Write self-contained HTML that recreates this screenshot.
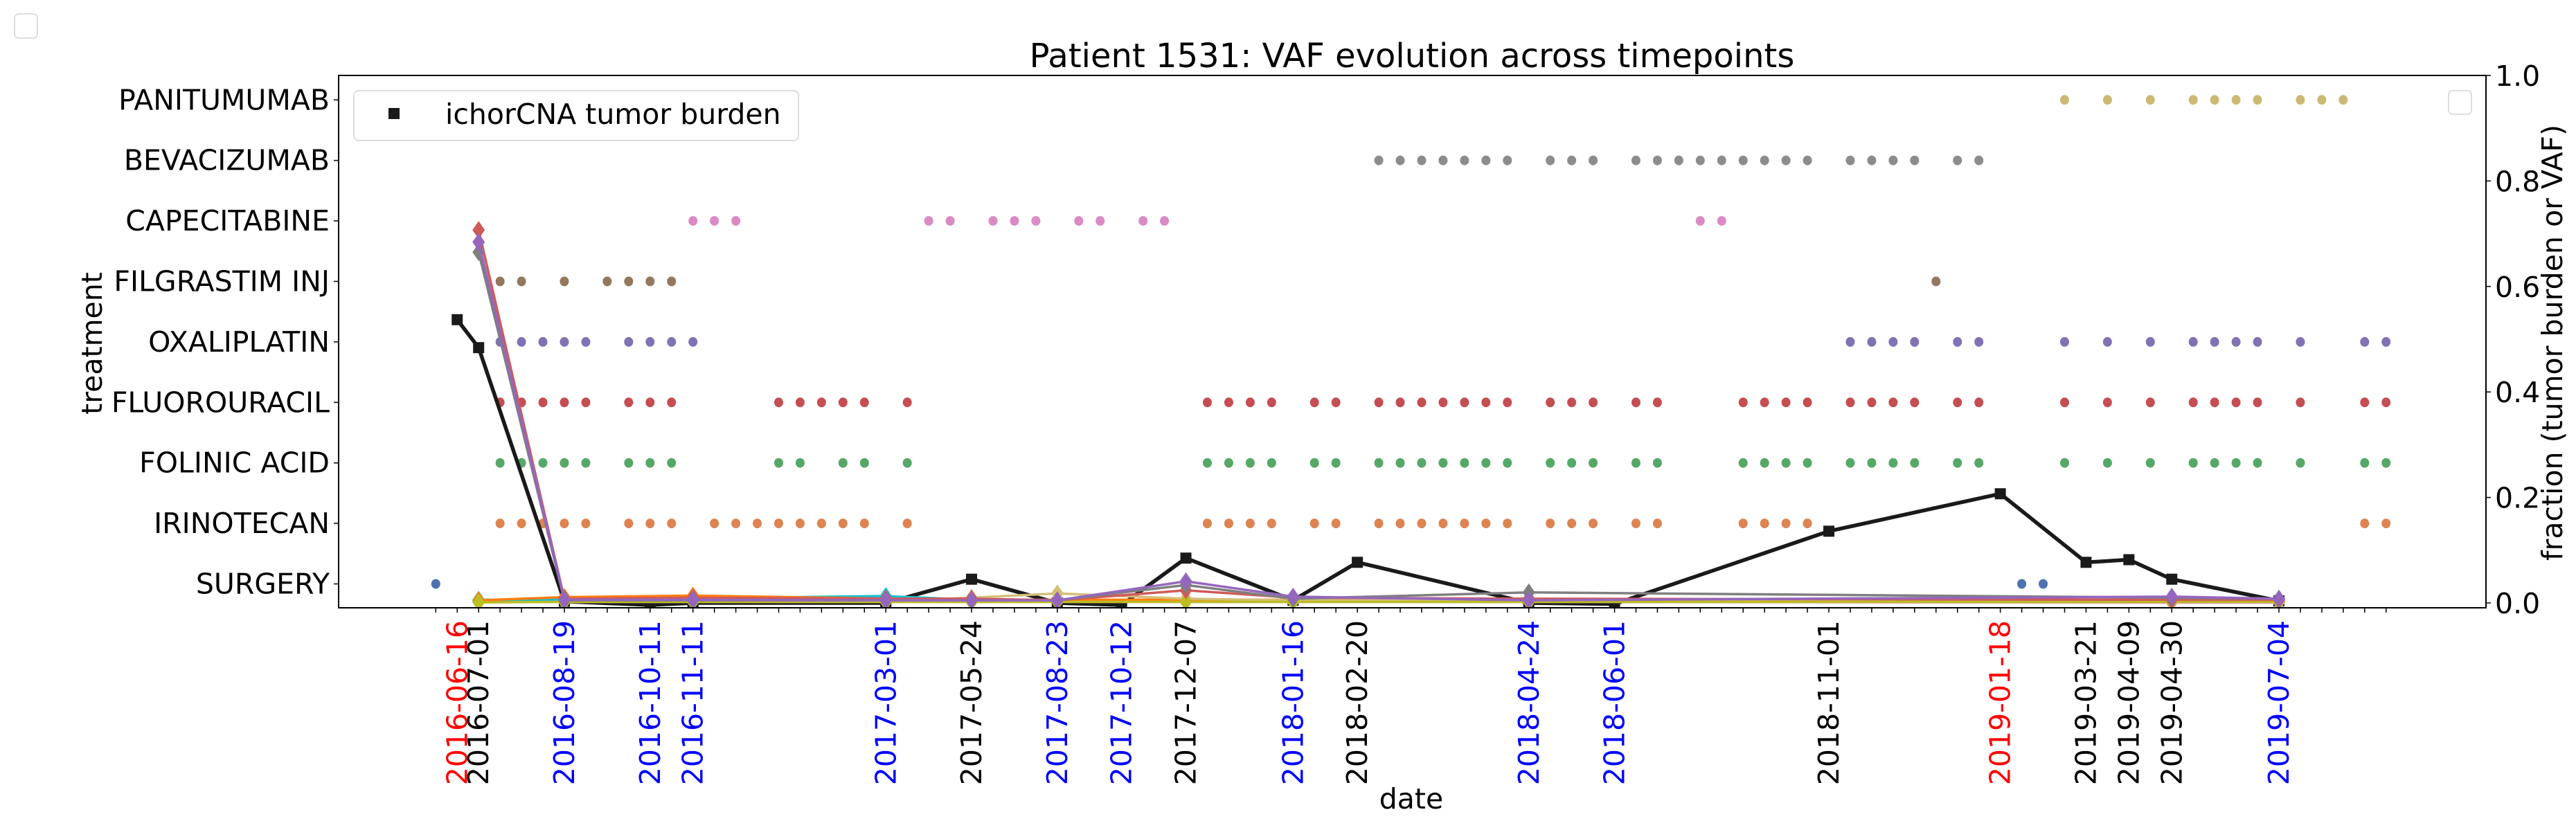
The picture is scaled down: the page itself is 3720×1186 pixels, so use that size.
<!DOCTYPE html>
<html><head><meta charset="utf-8"><style>
html,body{margin:0;padding:0;background:#fff;}
svg{display:block;font-family:"DejaVu Sans","Liberation Sans",sans-serif;}
</style></head><body>
<svg id="chart" width="3720" height="1186" viewBox="0 0 3720 1186" xmlns="http://www.w3.org/2000/svg">
<rect x="0" y="0" width="3720" height="1186" fill="#fff"/>
<rect x="21" y="20" width="33" height="35" rx="6" fill="#fff" stroke="#ddd" stroke-width="2"/>
<text x="2039" y="97" font-size="48" text-anchor="middle">Patient 1531: VAF evolution across timepoints</text>
<g id="plot"></g>
<rect x="489" y="109" width="3101" height="769" fill="none" stroke="#000" stroke-width="2"/>
<g>
<rect x="511" y="131" width="642" height="72" rx="7" fill="#fff" fill-opacity="0.85" stroke="#ddd" stroke-width="2"/>
<rect x="561" y="156" width="16" height="16" fill="#1a1a1a"/>
<text x="643" y="179" font-size="41">ichorCNA tumor burden</text>
</g>
<rect x="3536" y="131" width="33" height="34" rx="6" fill="#fff" stroke="#ddd" stroke-width="2"/>
<text transform="translate(147,496) rotate(-90)" font-size="41" text-anchor="middle">treatment</text>
<text transform="translate(3700,495) rotate(-90)" font-size="41" text-anchor="middle">fraction (tumor burden or VAF)</text>
<text x="2038" y="1168" font-size="41" text-anchor="middle">date</text>
</svg>
<script>
const treatments = ["SURGERY","IRINOTECAN","FOLINIC ACID","FLUOROURACIL","OXALIPLATIN","FILGRASTIM INJ","CAPECITABINE","BEVACIZUMAB","PANITUMUMAB"];
const treatmentColors = ["#4c72b0","#dd8452","#55a868","#c44e52","#8172b3","#937860","#da8bc3","#8c8c8c","#ccb974"];
const surgeryIdx = [0,74,75];
const irinotecanIdx = [3,4,5,6,7,9,10,11,13,14,15,16,17,18,19,20,22,36,37,38,39,41,42,44,45,46,47,48,49,50,52,53,54,56,57,61,62,63,64,90,91];
const folinicIdx = [3,4,5,6,7,9,10,11,16,17,19,20,22,36,37,38,39,41,42,44,45,46,47,48,49,50,52,53,54,56,57,61,62,63,64,66,67,68,69,71,72,76,78,80,82,83,84,85,87,90,91];
const fluorouracilIdx = [3,4,5,6,7,9,10,11,16,17,18,19,20,22,36,37,38,39,41,42,44,45,46,47,48,49,50,52,53,54,56,57,61,62,63,64,66,67,68,69,71,72,76,78,80,82,83,84,85,87,90,91];
const oxaliplatinIdx = [3,4,5,6,7,9,10,11,12,66,67,68,69,71,72,76,78,80,82,83,84,85,87,90,91];
const filgrastimIdx = [3,4,6,8,9,10,11,70];
const capecitabineIdx = [12,13,14,23,24,26,27,28,30,31,33,34,59,60];
const bevacizumabIdx = [44,45,46,47,48,49,50,52,53,54,56,57,58,59,60,61,62,63,64,66,67,68,69,71,72];
const panitumumabIdx = [76,78,80,82,83,84,85,87,88,89];

const tickIdx = [1,2,6,10,12,21,25,29,32,35,40,43,51,55,65,73,77,79,81,86];
const tickLabels = ["2016-06-16","2016-07-01","2016-08-19","2016-10-11","2016-11-11","2017-03-01","2017-05-24","2017-08-23","2017-10-12","2017-12-07","2018-01-16","2018-02-20","2018-04-24","2018-06-01","2018-11-01","2019-01-18","2019-03-21","2019-04-09","2019-04-30","2019-07-04"];
const tickColors = ["red","black","blue","blue","blue","blue","black","blue","blue","black","blue","black","blue","blue","black","red","black","black","black","blue"];

const ichorIdx = [1,2,6,10,12,21,25,29,32,35,40,43,51,55,65,73,77,79,81,86];
const ichorVals = [0.537,0.484,0.003,-0.004,0.0,0.0,0.045,0.0,-0.004,0.085,0.005,0.077,0.0,-0.002,0.136,0.207,0.077,0.082,0.045,0.004];

const vafIdx = [2,6,12,21,25,29,35,40,51,81,86];
const vafBlue = [0.004,0.003,0.003,0.003,0.003,0.003,0.003,0.003,0.003,0.003,0.003];
const vafGreen = [0.003,0.004,0.004,0.004,0.004,0.004,0.004,0.004,0.004,0.004,0.004];
const vafBrown = [0.002,0.003,0.003,0.003,0.003,0.003,0.003,0.003,0.003,0.003,0.003];
const vafPink = [0.002,0.002,0.002,0.002,0.002,0.002,0.002,0.002,0.002,0.001,0.001];
const vafCyan = [0.006,0.006,0.009,0.013,0.006,0.005,0.005,0.005,0.005,0.005,0.005];
const vafOrange = [0.005,0.011,0.014,0.008,0.006,0.006,0.006,0.006,0.006,0.004,0.004];
const vafTan = [null,null,null,0.004,0.01,0.018,0.008,0.005,0.005,0.004,0.004];
const vafOlive = [0.001,0.002,0.002,0.002,0.002,0.002,0.002,0.002,0.002,0.002,0.002];
const vafRed = [0.707,0.008,0.01,0.008,0.008,0.005,0.024,0.01,0.008,0.006,0.006];
const vafGray = [0.665,0.005,0.005,0.005,0.005,0.005,0.034,0.008,0.02,0.01,0.008];
const vafPurple = [0.684,0.006,0.006,0.005,0.005,0.005,0.041,0.012,0.005,0.012,0.008];
const rightTicks = [0,0.2,0.4,0.6,0.8,1.0];
const rightTickLabels = ["0.0","0.2","0.4","0.6","0.8","1.0"];

const NS = "http://www.w3.org/2000/svg";
const X0 = 629.3, DX = 30.95;
function xs(i){ return X0 + i*DX; }
function yc(c){ return 843.5 - c*87.4; }
function yv(v){ return 871 - v*762; }
const plot = document.getElementById('plot');
function mk(tag, attrs, parent){
  const e = document.createElementNS(NS, tag);
  for (const k in attrs) e.setAttribute(k, attrs[k]);
  (parent||plot).appendChild(e);
  return e;
}

const defs = mk('defs', {});
const cp = mk('clipPath', {id:'clip'}, defs);
mk('rect', {x:489, y:109, width:3101, height:769}, cp);

for (let i=0;i<=91;i++){
  const t = mk('line', {x1:xs(i), x2:xs(i), y1:878, y2:885, stroke:'#000', 'stroke-width':1.5});
  
  
}
tickIdx.forEach((idx,k)=>{
  const t = mk('text', {transform:`translate(${xs(idx)+14},896) rotate(-90)`, 'font-size':41, 'text-anchor':'end', fill:tickColors[k]});
  t.textContent = tickLabels[k];
  
  
});
treatments.forEach((name,c)=>{
  const l = mk('line', {x1:482, x2:489, y1:yc(c), y2:yc(c), stroke:'#000', 'stroke-width':1.5});
  
  
  const t = mk('text', {x:476, y:yc(c)+14, 'font-size':41, 'text-anchor':'end'});
  t.textContent = name;
  
  
});
rightTicks.forEach((v,k)=>{
  const l = mk('line', {x1:3590, x2:3597, y1:yv(v), y2:yv(v), stroke:'#000', 'stroke-width':1.5});
  
  
  const t = mk('text', {x:3603, y:yv(v)+15, 'font-size':41});
  t.textContent = rightTickLabels[k];
  
  
});

const g = mk('g', {'clip-path':'url(#clip)'});
const rows = [surgeryIdx,irinotecanIdx,folinicIdx,fluorouracilIdx,oxaliplatinIdx,filgrastimIdx,capecitabineIdx,bevacizumabIdx,panitumumabIdx];
rows.forEach((arr,c)=>{
  arr.forEach(i=>{
    const d = mk('ellipse', {cx:xs(i), cy:yc(c), rx:6.5, ry:7, fill:treatmentColors[c]}, g);
    
    
  });
});

// ichorCNA (drawn beneath VAF lines)
const ip = ichorIdx.map((i,k)=>[xs(i), yv(ichorVals[k])]);
const il = mk('polyline', {points:ip.map(p=>p.join(',')).join(' '), fill:'none', stroke:'#1a1a1a', 'stroke-width':5.5, 'stroke-linejoin':'round'}, g);


ip.forEach(([x,y])=>{
  const s = mk('rect', {x:x-8, y:y-8, width:16, height:16, fill:'#1a1a1a'}, g);
  
  
});

const vafSeries = [
  [vafBlue,'#1f77b4'],[vafGreen,'#2ca02c'],[vafBrown,'#8c564b'],[vafPink,'#e377c2'],
  [vafCyan,'#17becf'],[vafOrange,'#ff7f0e'],[vafTan,'#d4bf7a'],[vafOlive,'#bcbd22'],
  [vafRed,'#d05a5a'],[vafGray,'#7f7f7f'],[vafPurple,'#9467bd']
];
vafSeries.forEach(([vals,col])=>{
  let pts = [];
  vals.forEach((v,k)=>{ if (v!==null) pts.push([xs(vafIdx[k]), yv(v)]); });
  const p = mk('polyline', {points:pts.map(p=>p.join(',')).join(' '), fill:'none', stroke:col, 'stroke-width':3.5, 'stroke-linejoin':'round'}, g);
  
  
  pts.forEach(([x,y])=>{
    const d = mk('polygon', {points:`${x},${y-13} ${x+9},${y} ${x},${y+13} ${x-9},${y}`, fill:col}, g);
    
    
  });
});
</script>
</body></html>
